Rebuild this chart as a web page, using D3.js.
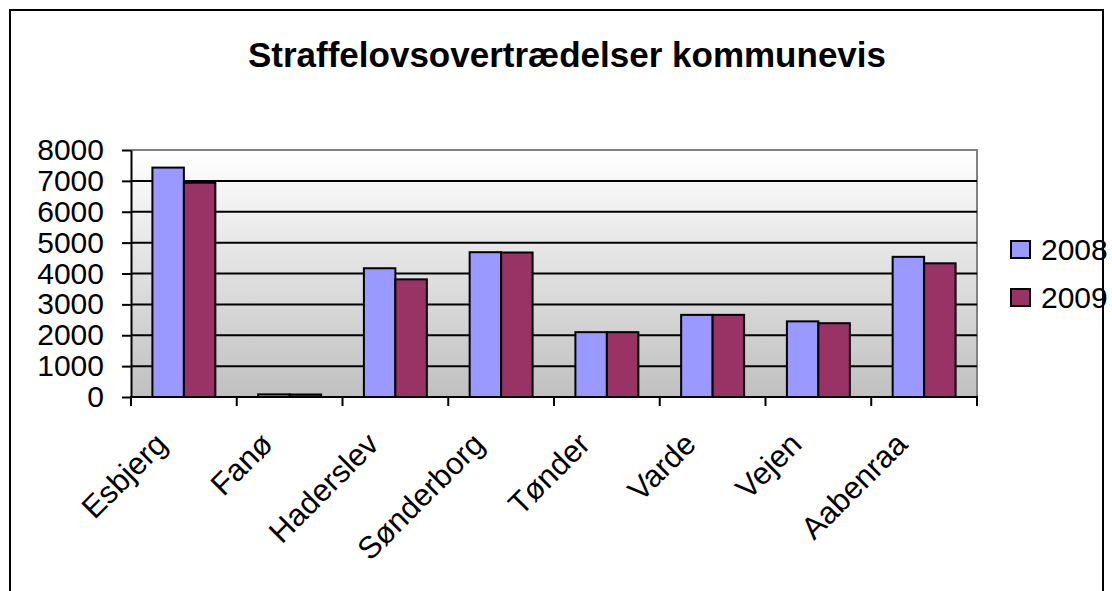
<!DOCTYPE html>
<html>
<head>
<meta charset="utf-8">
<script src="https://cdn.jsdelivr.net/npm/d3@7"></script>
<style>
  body { margin: 0; background: #fff; }
  text { font-family: "Liberation Sans", Arial, sans-serif; }
</style>
</head>
<body>
<div id="chart"></div>
<script>
// chart data
var categories = ['Esbjerg', 'Fanø', 'Haderslev', 'Sønderborg', 'Tønder', 'Varde', 'Vejen', 'Aabenraa'];
var series = ['2008', '2009'];
var values2008 = [7430, 85, 4170, 4690, 2100, 2660, 2450, 4540];
var values2009 = [6940, 80, 3810, 4680, 2100, 2660, 2390, 4330];
var colors = ['#9999ff', '#993366'];
var yTicks = [0, 1000, 2000, 3000, 4000, 5000, 6000, 7000, 8000];

var W = 1112, H = 591;
var plot = {left: 131, right: 977, top: 150, bottom: 397};

var svg = d3.select('#chart').append('svg')
    .attr('width', W)
    .attr('height', H);

// outer frame
svg.append('rect')
    .attr('x', 10).attr('y', 10)
    .attr('width', 1093).attr('height', 600)
    .attr('fill', '#fff')
    .attr('stroke', '#000')
    .attr('stroke-width', 2);

svg.append('text')
    .attr('x', 567).attr('y', 67)
    .attr('text-anchor', 'middle')
    .attr('font-size', 35)
    .attr('font-weight', 'bold')
    .text('Straffelovsovertrædelser kommunevis');

var defs = svg.append('defs');
var grad = defs.append('linearGradient')
    .attr('id', 'bg')
    .attr('x1', 0).attr('y1', 0).attr('x2', 0).attr('y2', 1);
grad.append('stop').attr('offset', '0%').attr('stop-color', '#ffffff');
grad.append('stop').attr('offset', '100%').attr('stop-color', '#c0c0c0');

var x = d3.scaleBand()
    .domain(categories)
    .range([plot.left, plot.right]);

var xs = d3.scaleBand()
    .domain(series)
    .range([0, x.bandwidth()])
    .paddingOuter(0.68);

var y = d3.scaleLinear()
    .domain([0, 8000])
    .range([plot.bottom, plot.top]);

svg.append('rect')
    .attr('x', plot.left).attr('y', plot.top)
    .attr('width', plot.right - plot.left)
    .attr('height', plot.bottom - plot.top)
    .attr('fill', 'url(#bg)');

// plot border top/right
svg.append('path')
    .attr('d', 'M' + plot.left + ',' + plot.top + 'H' + plot.right + 'V' + plot.bottom)
    .attr('fill', 'none')
    .attr('stroke', '#808080')
    .attr('stroke-width', 2);

// gridlines
svg.append('g')
    .selectAll('line')
    .data(yTicks.filter(function(d) { return d > 0 && d < 8000; }))
    .join('line')
    .attr('x1', plot.left).attr('x2', plot.right)
    .attr('y1', function(d) { return y(d); })
    .attr('y2', function(d) { return y(d); })
    .attr('stroke', '#000')
    .attr('stroke-width', 2);

var rows = categories.map(function(c, i) {
  return {cat: c, vals: [values2008[i], values2009[i]]};
});

var groups = svg.append('g')
    .selectAll('g')
    .data(rows)
    .join('g')
    .attr('transform', function(d) { return 'translate(' + x(d.cat) + ',0)'; });

groups.selectAll('rect')
    .data(function(d) {
      return d.vals.map(function(v, j) { return {s: series[j], v: v, j: j}; });
    })
    .join('rect')
    .attr('x', function(d) { return xs(d.s); })
    .attr('y', function(d) { return y(d.v); })
    .attr('width', xs.bandwidth())
    .attr('height', function(d) { return y(0) - y(d.v); })
    .attr('fill', function(d) { return colors[d.j]; })
    .attr('stroke', '#000')
    .attr('stroke-width', 2);

// y axis
var yAxis = svg.append('g')
    .attr('transform', 'translate(' + plot.left + ',0)')
    .call(d3.axisLeft(y).tickValues(yTicks).tickFormat(d3.format('d'))
        .tickSize(9).tickPadding(18).tickSizeOuter(0));
yAxis.select('.domain').attr('stroke-width', 2);
yAxis.selectAll('.tick line').attr('stroke-width', 2);
yAxis.selectAll('.tick text')
    .attr('font-size', 30)
    .attr('font-family', '"Liberation Sans", Arial, sans-serif')
    .attr('fill', '#000');

// x axis
var bounds = categories.map(function(c) { return x(c); }).concat([plot.right]);
svg.append('line')
    .attr('x1', plot.left - 1).attr('x2', plot.right + 1)
    .attr('y1', plot.bottom).attr('y2', plot.bottom)
    .attr('stroke', '#000').attr('stroke-width', 2);
svg.append('g')
    .selectAll('line')
    .data(bounds)
    .join('line')
    .attr('x1', function(d) { return d; })
    .attr('x2', function(d) { return d; })
    .attr('y1', plot.bottom).attr('y2', plot.bottom + 9)
    .attr('stroke', '#000').attr('stroke-width', 2);

svg.append('g')
    .selectAll('text')
    .data(categories)
    .join('text')
    .attr('transform', function(d) {
      return 'translate(' + (x(d) + x.bandwidth() / 2 - 15) + ',446) rotate(-45)';
    })
    .attr('text-anchor', 'end')
    .attr('font-size', 31)
    .text(function(d) { return d; });

// legend
var legend = svg.append('g')
    .selectAll('g')
    .data(series)
    .join('g')
    .attr('transform', function(d, i) { return 'translate(1011,' + (249 + i * 48) + ')'; });
legend.append('rect')
    .attr('x', 0).attr('y', -8)
    .attr('width', 19).attr('height', 17)
    .attr('fill', function(d, i) { return colors[i]; })
    .attr('stroke', '#000')
    .attr('stroke-width', 2);
legend.append('text')
    .attr('x', 30).attr('y', 11)
    .attr('font-size', 30)
    .text(function(d) { return d; });
</script>
</body>
</html>
